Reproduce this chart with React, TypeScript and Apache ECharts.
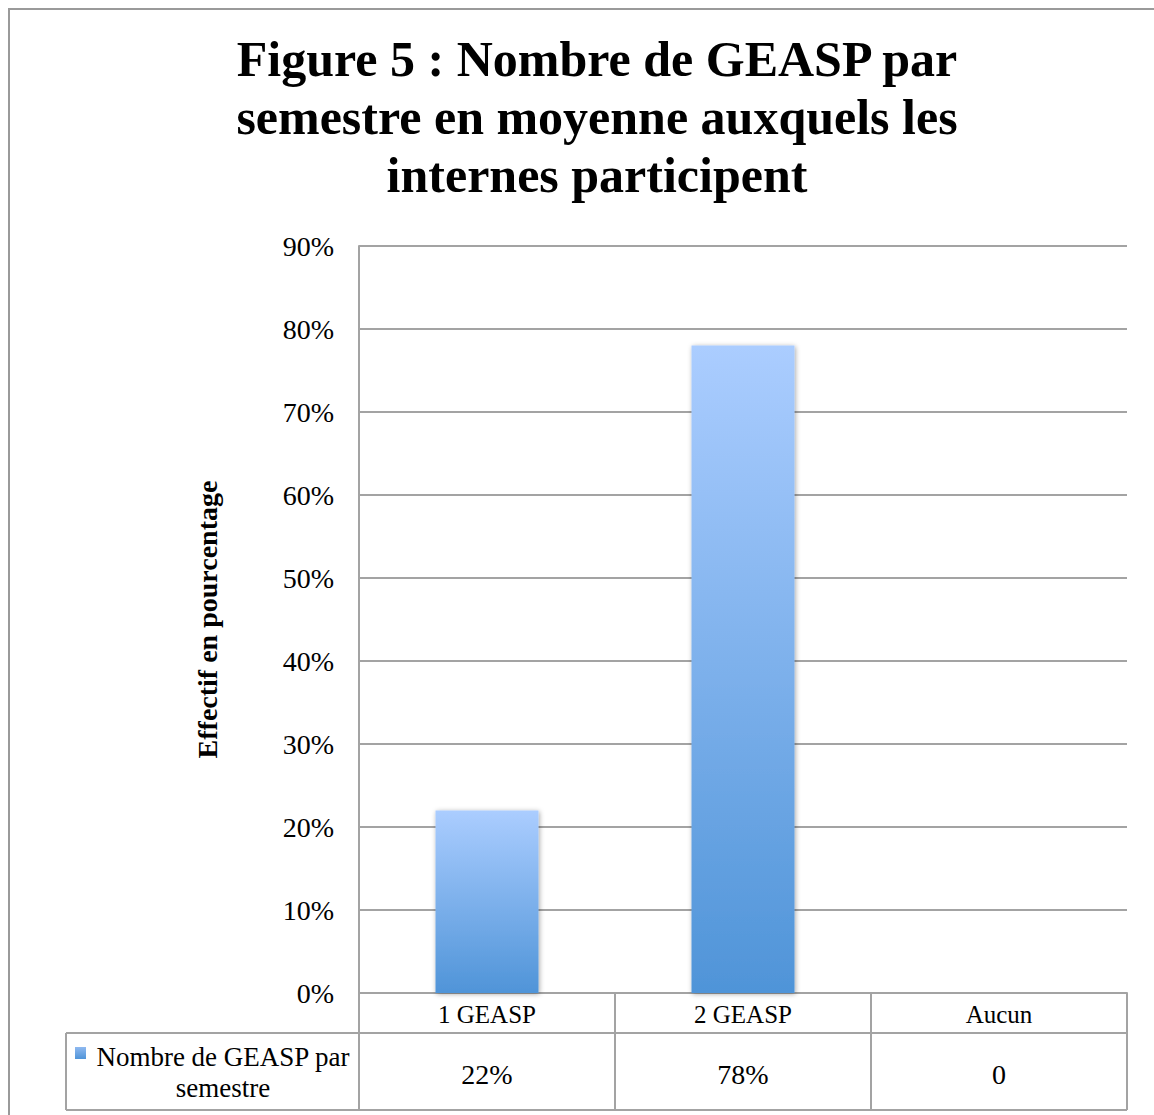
import React, { useEffect, useRef } from "react";
import * as echarts from "echarts";

const titleLines = [
  "Figure 5 : Nombre de GEASP par",
  "semestre en moyenne auxquels les",
  "internes participent",
];
const categories = ["1 GEASP", "2 GEASP", "Aucun"];
const values = [22, 78, 0];
const tableLabels = ["22%", "78%", "0"];
const seriesName = "Nombre de GEASP par\nsemestre";
const yAxisName = "Effectif en pourcentage";
const yMin = 0;
const yMax = 90;
const yInterval = 10;

const FONT = "'Liberation Serif', 'Times New Roman', serif";
const LINE = "#a3a3a3";

export default function App() {
  const ref = useRef<HTMLDivElement>(null);
  useEffect(() => {
    if (!ref.current) return;
    const chart = echarts.init(ref.current, null, { renderer: "svg" });
    const gL = 359, gT = 246, gW = 768, gH = 747;
    const gB = gT + gH;
    const gR = gL + gW;
    const cellW = gW / categories.length;
    const row1B = 1033;
    const tableB = 1110;
    const legL = 66;
    const grad = () =>
      new echarts.graphic.LinearGradient(0, 0, 0, 1, [
        { offset: 0, color: "#abcdff" },
        { offset: 1, color: "#4f94d8" },
      ]);
    const graphics: any[] = [];
    // outer border
    graphics.push({
      type: "rect",
      shape: { x: 9, y: 9, width: 1200, height: 1200 },
      style: { fill: "none", stroke: "#9a9a9a", lineWidth: 2 },
      silent: true,
    });
    const ln = (x1: number, y1: number, x2: number, y2: number) =>
      graphics.push({
        type: "line",
        shape: { x1, y1, x2, y2 },
        style: { stroke: LINE, lineWidth: 2 },
        silent: true,
        z: 10,
      });
    // table lines
    for (let i = 0; i <= categories.length; i++) {
      const x = gL + cellW * i;
      ln(x, gB, x, tableB);
    }
    ln(legL, row1B, gR, row1B);
    ln(legL, tableB, gR, tableB);
    ln(legL, row1B, legL, tableB);
    // values row
    tableLabels.forEach((t, i) => {
      graphics.push({
        type: "text",
        x: gL + cellW * (i + 0.5),
        y: 1074,
        style: {
          text: t,
          font: `28px ${FONT}`,
          fill: "#000",
          textAlign: "center",
          textVerticalAlign: "middle",
        },
      });
    });
    // legend key
    graphics.push({
      type: "rect",
      shape: { x: 75, y: 1047, width: 11, height: 12 },
      style: {
        fill: new echarts.graphic.LinearGradient(0, 0, 0, 1, [
          { offset: 0, color: "#8fb9f0" },
          { offset: 1, color: "#4f94d8" },
        ]),
      },
    });
    graphics.push({
      type: "text",
      x: 223,
      y: 1072,
      style: {
        text: seriesName,
        font: `27px ${FONT}`,
        fill: "#000",
        textAlign: "center",
        textVerticalAlign: "middle",
        lineHeight: 31,
      },
    });

    chart.setOption({
      animation: false,
      title: {
        text: titleLines.join("\n"),
        left: 592,
        top: 25,
        textAlign: "center",
        textStyle: {
          fontFamily: FONT,
          fontWeight: "bold",
          fontSize: 50,
          lineHeight: 58,
          color: "#000",
        },
      },
      grid: { left: gL, top: gT, width: gW, height: gH, containLabel: false },
      xAxis: {
        type: "category",
        data: categories,
        axisLine: { show: true, lineStyle: { color: LINE, width: 2 } },
        axisTick: { show: false },
        axisLabel: {
          margin: 9,
          fontFamily: FONT,
          fontSize: 25,
          color: "#000",
        },
      },
      yAxis: {
        type: "value",
        min: yMin,
        max: yMax,
        interval: yInterval,
        name: yAxisName,
        nameLocation: "middle",
        nameGap: 138,
        nameRotate: 90,
        nameTextStyle: {
          fontFamily: FONT,
          fontWeight: "bold",
          fontSize: 28,
          color: "#000",
        },
        axisLine: { show: true, lineStyle: { color: LINE, width: 2 } },
        axisTick: { show: false },
        axisLabel: {
          margin: 25,
          formatter: "{value}%",
          fontFamily: FONT,
          fontSize: 28,
          color: "#000",
        },
        splitLine: { show: true, lineStyle: { color: LINE, width: 2 } },
      },
      series: [
        {
          type: "bar",
          name: seriesName,
          data: values,
          barWidth: 103,
          itemStyle: {
            color: grad(),
            shadowBlur: 5,
            shadowColor: "rgba(0,0,0,0.35)",
            shadowOffsetX: 1,
            shadowOffsetY: 1,
          },
          z: 5,
        },
      ],
      graphic: graphics,
    });
    return () => chart.dispose();
  }, []);
  return (
    <div
      ref={ref}
      style={{
        position: "fixed",
        left: 0,
        top: 0,
        width: 1154,
        height: 1115,
        background: "#fff",
      }}
    />
  );
}
